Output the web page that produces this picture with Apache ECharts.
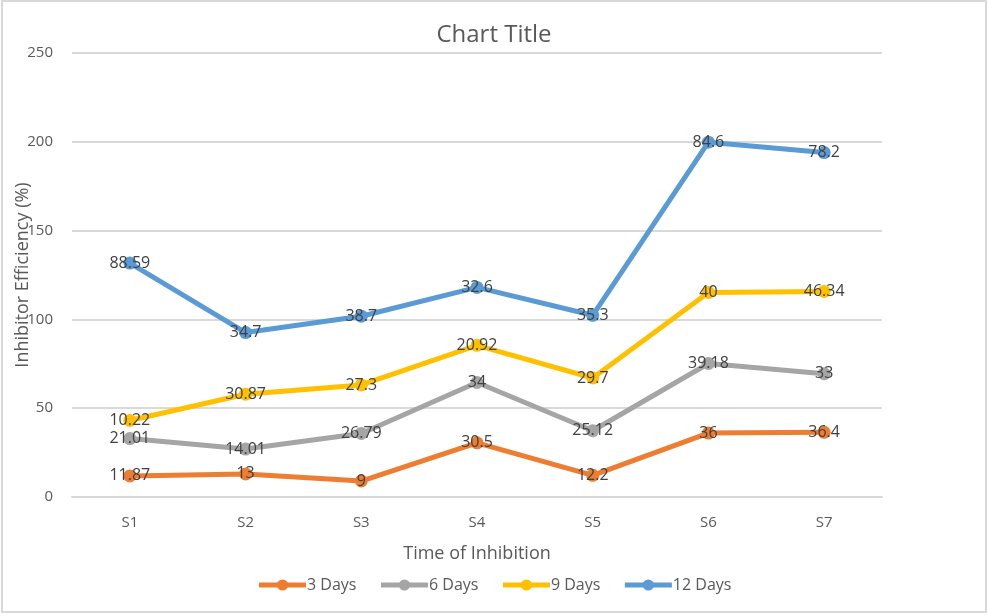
<!DOCTYPE html>
<html>
<head>
<meta charset="utf-8">
<script src="https://cdn.jsdelivr.net/npm/echarts@6/dist/echarts.min.js"></script>
<style>
  html, body { margin: 0; padding: 0; background: #fff; }
  #frame { position: absolute; left: 1px; top: 0; width: 986px; height: 613px; border: 2px solid #d9d9d9; box-sizing: border-box; }
  #main { position: absolute; left: 0; top: 0; width: 988px; height: 616px; }
</style>
</head>
<body>
<div id="frame"></div>
<div id="main"></div>
<script>
// categories and series (stacked, Excel style)
var categories = ['S1', 'S2', 'S3', 'S4', 'S5', 'S6', 'S7'];
var days3  = [11.87, 13, 9, 30.5, 12.2, 36, 36.4];
var days6  = [21.01, 14.01, 26.79, 34, 25.12, 39.18, 33];
var days9  = [10.22, 30.87, 27.3, 20.92, 29.7, 40, 46.34];
var days12 = [88.59, 34.7, 38.7, 32.6, 35.3, 84.6, 78.2];
var seriesNames = ['3 Days', '6 Days', '9 Days', '12 Days'];
var colors = ['#ED7D31', '#A5A5A5', '#FFC000', '#5B9BD5'];

var chart = echarts.init(document.getElementById('main'));

function makeSeries(name, data, color) {
    return {
        name: name,
        type: 'line',
        stack: 'total',
        data: data,
        symbol: 'circle',
        symbolSize: 13,
        lineStyle: { width: 5, color: color },
        itemStyle: { color: color },
        label: {
            show: true,
            position: 'inside',
            color: '#404040',
            fontSize: 16,
            fontFamily: 'Open Sans'
        }
    };
}

var option = {
    color: colors,
    title: {
        text: 'Chart Title',
        left: 'center',
        top: 18,
        textStyle: { color: '#595959', fontSize: 24, fontWeight: 'normal', fontFamily: 'Open Sans' }
    },
    legend: {
        bottom: 18,
        left: 'center',
        itemWidth: 47,
        itemHeight: 14,
        itemGap: 22,
        lineStyle: { width: 5 },
        textStyle: { color: '#595959', fontSize: 16, fontFamily: 'Open Sans', padding: [0, 0, 0, -4] },
        data: seriesNames
    },
    grid: { left: 72, right: 106, top: 53, bottom: 119, outerBoundsMode: 'none', containLabel: false },
    xAxis: {
        type: 'category',
        data: categories,
        name: 'Time of Inhibition',
        nameLocation: 'middle',
        nameGap: 48,
        nameMoveOverlap: false,
        nameTextStyle: { color: '#595959', fontSize: 18, fontFamily: 'Open Sans' },
        axisLine: { lineStyle: { color: '#d9d9d9', width: 2 } },
        axisTick: { show: false },
        axisLabel: { color: '#595959', fontSize: 15, margin: 18, fontFamily: 'Open Sans' }
    },
    yAxis: {
        type: 'value',
        min: 0,
        max: 250,
        interval: 50,
        name: 'Inhibitor Efficiency (%)',
        nameLocation: 'middle',
        nameGap: 40,
        nameMoveOverlap: false,
        nameTextStyle: { color: '#595959', fontSize: 18, fontFamily: 'Open Sans' },
        axisLine: { show: false },
        axisTick: { show: false },
        splitLine: { lineStyle: { color: '#d9d9d9', width: 2 } },
        axisLabel: { color: '#595959', fontSize: 15, margin: 19, fontFamily: 'Open Sans' }
    },
    series: [
        makeSeries(seriesNames[0], days3, colors[0]),
        makeSeries(seriesNames[1], days6, colors[1]),
        makeSeries(seriesNames[2], days9, colors[2]),
        makeSeries(seriesNames[3], days12, colors[3])
    ]
};

chart.setOption(option);
</script>
</body>
</html>
